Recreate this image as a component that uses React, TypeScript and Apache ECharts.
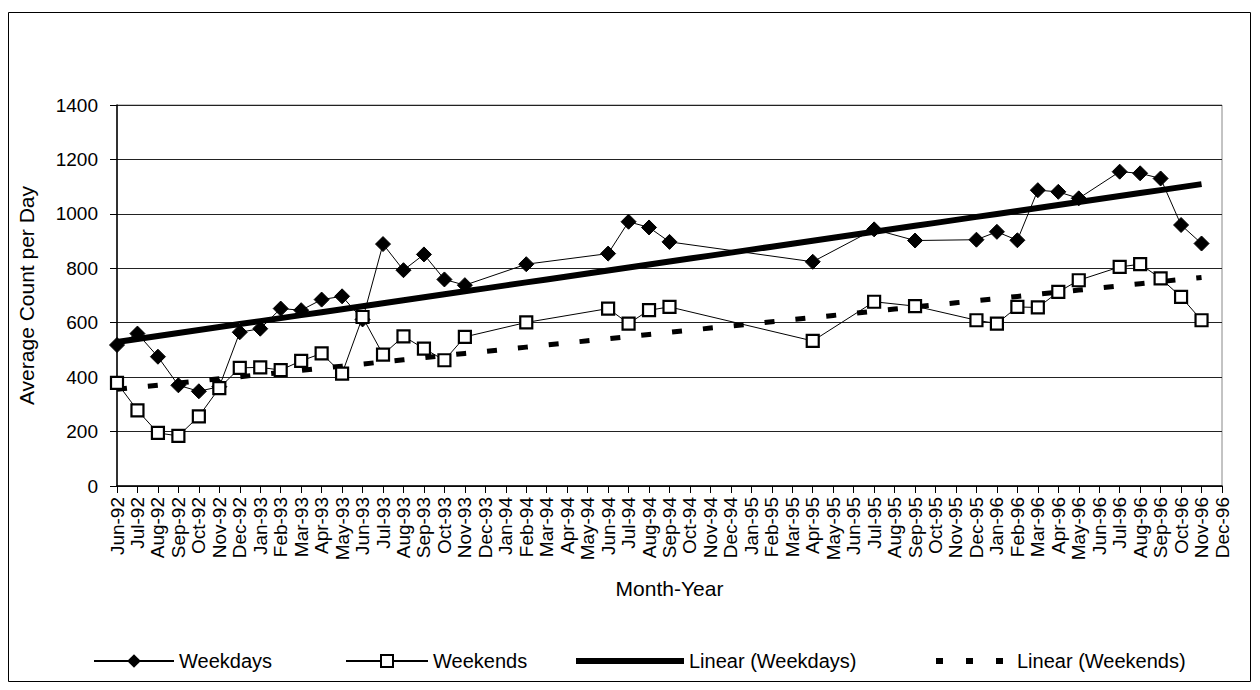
import React, { useEffect, useRef } from "react";
import * as echarts from "echarts";

const categories = [
  "Jun-92","Jul-92","Aug-92","Sep-92","Oct-92","Nov-92","Dec-92",
  "Jan-93","Feb-93","Mar-93","Apr-93","May-93","Jun-93","Jul-93","Aug-93","Sep-93","Oct-93","Nov-93","Dec-93",
  "Jan-94","Feb-94","Mar-94","Apr-94","May-94","Jun-94","Jul-94","Aug-94","Sep-94","Oct-94","Nov-94","Dec-94",
  "Jan-95","Feb-95","Mar-95","Apr-95","May-95","Jun-95","Jul-95","Aug-95","Sep-95","Oct-95","Nov-95","Dec-95",
  "Jan-96","Feb-96","Mar-96","Apr-96","May-96","Jun-96","Jul-96","Aug-96","Sep-96","Oct-96","Nov-96","Dec-96"
];

const weekdays: (number | null)[] = [
  518, 560, 475, 370, 348, 365, 565,
  578, 652, 646, 685, 697, 612, 889, 793, 851, 759, 738, null,
  null, 815, null, null, null, 854, 971, 950, 897, null, null, null,
  null, null, null, 824, null, null, 943, null, 902, null, null, 905,
  934, 903, 1087, 1081, 1057, null, 1155, 1149, 1130, 959, 891, null
];

const weekends: (number | null)[] = [
  379, 278, 195, 184, 256, 360, 434,
  436, 426, 460, 487, 413, 621, 483, 550, 505, 462, 548, null,
  null, 601, null, null, null, 652, 597, 646, 658, null, null, null,
  null, null, null, 533, null, null, 677, null, 661, null, null, 609,
  597, 658, 656, 713, 756, null, 805, 815, 763, 695, 609, null
];

const yTicks = { min: 0, max: 1400, interval: 200 };

function linearTrend(vals: (number | null)[]): (number | null)[] {
  let n = 0, sx = 0, sy = 0, sxx = 0, sxy = 0, first = -1, last = -1;
  vals.forEach((v, i) => {
    if (v == null) return;
    if (first < 0) first = i;
    last = i;
    n++; sx += i; sy += v; sxx += i * i; sxy += i * v;
  });
  const b = (n * sxy - sx * sy) / (n * sxx - sx * sx);
  const a = (sy - b * sx) / n;
  return vals.map((_, i) => (i >= first && i <= last ? a + b * i : null));
}

const FONT = "'Liberation Sans', Arial, Helvetica, sans-serif";

export default function App() {
  const ref = useRef<HTMLDivElement>(null);
  useEffect(() => {
    if (!ref.current) return;
    const chart = echarts.init(ref.current, null, { renderer: "svg" });
    const wdTrend = linearTrend(weekdays);
    const weTrend = linearTrend(weekends);
    const legendText = { fontSize: 20, color: "#000", fontFamily: FONT };
    chart.setOption({
      animation: false,
      backgroundColor: "#fff",
      textStyle: { fontFamily: FONT, color: "#000" },
      grid: {
        left: 117, right: 38, top: 105, bottom: 204,
        show: true, borderColor: "#888", borderWidth: 1, backgroundColor: "transparent",
      },
      graphic: [
        {
          type: "rect",
          shape: { x: 8.5, y: 12.5, width: 1242, height: 669 },
          style: { fill: "none", stroke: "#000", lineWidth: 1 },
          silent: true,
        },
      ],
      legend: [
        { data: ["Weekdays"], left: 88, top: 646, itemWidth: 80, itemHeight: 17, textStyle: legendText, selectedMode: false },
        { data: ["Weekends"], left: 340, top: 646, itemWidth: 82, itemHeight: 15, textStyle: legendText, selectedMode: false },
        {
          data: ["Linear (Weekdays)"], left: 568, top: 646, itemWidth: 108, itemHeight: 14,
          textStyle: legendText, selectedMode: false,
          itemStyle: { opacity: 0 }, lineStyle: { width: 6, color: "#000" },
        },
        {
          data: ["Linear (Weekends)"], left: 928, top: 646, itemWidth: 76, itemHeight: 14,
          textStyle: legendText, selectedMode: false,
          itemStyle: { opacity: 0 }, lineStyle: { width: 6, color: "#000", type: [7, 23] },
        },
      ],
      xAxis: {
        type: "category",
        data: categories,
        boundaryGap: false,
        name: "Month-Year",
        nameLocation: "middle",
        nameGap: 92,
        nameTextStyle: { fontSize: 21, color: "#000", fontFamily: FONT },
        axisLine: { lineStyle: { color: "#000", width: 1.5 } },
        axisTick: { show: true, interval: 0, length: 7, lineStyle: { color: "#000" } },
        axisLabel: { interval: 0, rotate: 90, fontSize: 19, color: "#000", margin: 11, fontFamily: FONT },
        splitLine: { show: false },
      },
      yAxis: {
        type: "value",
        min: yTicks.min, max: yTicks.max, interval: yTicks.interval,
        name: "Average Count per Day",
        nameLocation: "middle",
        nameGap: 80,
        nameTextStyle: { fontSize: 21, color: "#000", fontFamily: FONT },
        axisLine: { show: true, lineStyle: { color: "#000", width: 1.5 } },
        axisTick: { show: true, length: 7, lineStyle: { color: "#000" } },
        axisLabel: {
          fontSize: 19, color: "#000", margin: 19, fontFamily: FONT,
          formatter: (v: number) => String(v),
        },
        splitLine: { show: true, lineStyle: { color: "#222", width: 1 } },
      },
      series: [
        {
          name: "Linear (Weekdays)",
          type: "line",
          data: wdTrend,
          symbol: "none",
          lineStyle: { color: "#000", width: 6 },
          itemStyle: { color: "#000" },
          z: 2,
        },
        {
          name: "Linear (Weekends)",
          type: "line",
          data: weTrend,
          symbol: "none",
          lineStyle: { color: "#000", width: 5, type: [10, 21] },
          itemStyle: { color: "#000" },
          z: 2,
        },
        {
          name: "Weekdays",
          type: "line",
          data: weekdays,
          connectNulls: true,
          symbol: "diamond",
          symbolSize: 15,
          lineStyle: { color: "#000", width: 1 },
          itemStyle: { color: "#000", borderColor: "#000" },
          z: 3,
        },
        {
          name: "Weekends",
          type: "line",
          data: weekends,
          connectNulls: true,
          symbol: "rect",
          symbolSize: 12,
          lineStyle: { color: "#000", width: 1 },
          itemStyle: { color: "#fff", borderColor: "#000", borderWidth: 2.2 },
          z: 4,
        },
      ],
    });
    return () => chart.dispose();
  }, []);
  return (
    <div
      ref={ref}
      style={{ position: "fixed", left: 0, top: 0, width: 1260, height: 690 }}
    />
  );
}
